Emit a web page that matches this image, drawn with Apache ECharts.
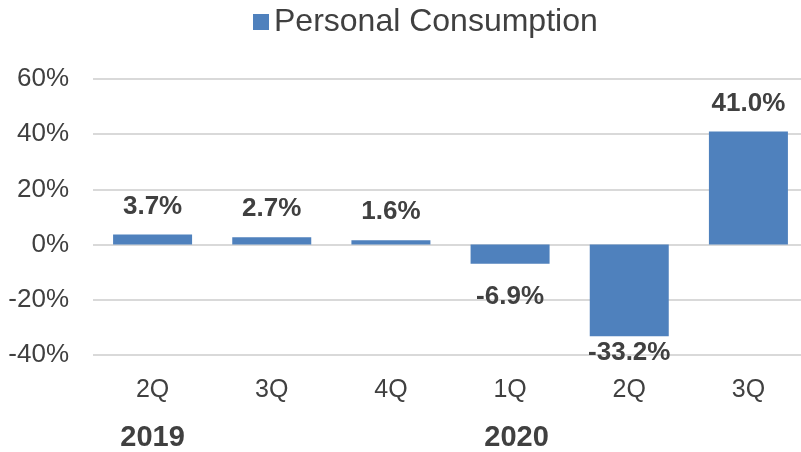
<!DOCTYPE html>
<html>
<head>
<meta charset="utf-8">
<script src="https://cdn.jsdelivr.net/npm/echarts@6/dist/echarts.min.js"></script>
<style>
  html, body { margin: 0; padding: 0; background: #fff; overflow: hidden; }
  /* plot runs past the right edge in the original, so the canvas is a bit wider than the window */
  #main { width: 808px; height: 452px; }
</style>
</head>
<body>
<div id="main"></div>
<script>
var quarters = ['2Q', '3Q', '4Q', '1Q', '2Q', '3Q'];
var years = ['2019', '', '', '2020', '', ''];
var consumption = [3.7, 2.7, 1.6, -6.9, -33.2, 41.0];
var yTicks = { min: -40, max: 60, step: 20 };

var font = 'Liberation Sans, Arial, sans-serif';

// labels: above positive bars, below negative bars
var barData = consumption.map(function(v) {
    return {
        value: v,
        label: {
            position: v >= 0 ? 'top' : 'bottom',
            distance: v >= 0 ? 15 : (v < -30 ? 4 : 20)
        }
    };
});

// 2020 sits a little right of the 1Q tick in the original
var yearData = years.map(function(y) {
    return y === '2020' ? { value: y, textStyle: { padding: [0, 0, 0, 13] } } : y;
});

var myChart = echarts.init(document.getElementById('main'));
var option = {
    animation: false,
    legend: {
        left: 248,
        top: 1,
        icon: 'rect',
        itemWidth: 16,
        itemHeight: 16,
        itemGap: 8,
        textStyle: { fontSize: 32, color: '#404040', fontFamily: font },
        data: ['Personal Consumption']
    },
    grid: { left: 93, top: 79, right: 0, bottom: 96, containLabel: false },
    xAxis: [{
        type: 'category',
        data: quarters,
        position: 'bottom',
        axisLine: { show: false, onZero: false },
        axisTick: { show: false },
        axisLabel: { fontSize: 25, color: '#404040', fontFamily: font, margin: 23 }
    }, {
        type: 'category',
        data: yearData,
        position: 'bottom',
        offset: 46,
        axisLine: { show: false, onZero: false },
        axisTick: { show: false },
        axisLabel: { fontSize: 29, fontWeight: 'bold', color: '#404040', fontFamily: font, margin: 22 }
    }],
    yAxis: {
        type: 'value',
        min: yTicks.min,
        max: yTicks.max,
        interval: yTicks.step,
        axisLine: { show: false },
        axisTick: { show: false },
        splitLine: { lineStyle: { color: '#d9d9d9', width: 2 } },
        axisLabel: { formatter: '{value}%', fontSize: 26, color: '#404040', fontFamily: font, margin: 24 }
    },
    series: [{
        name: 'Personal Consumption',
        type: 'bar',
        barWidth: 79,
        itemStyle: { color: '#4F81BD' },
        label: {
            show: true,
            fontSize: 26,
            fontWeight: 'bold',
            color: '#404040',
            fontFamily: font,
            formatter: function(p) { return p.value.toFixed(1) + '%'; }
        },
        data: barData
    }]
};
myChart.setOption(option);
</script>
</body>
</html>
